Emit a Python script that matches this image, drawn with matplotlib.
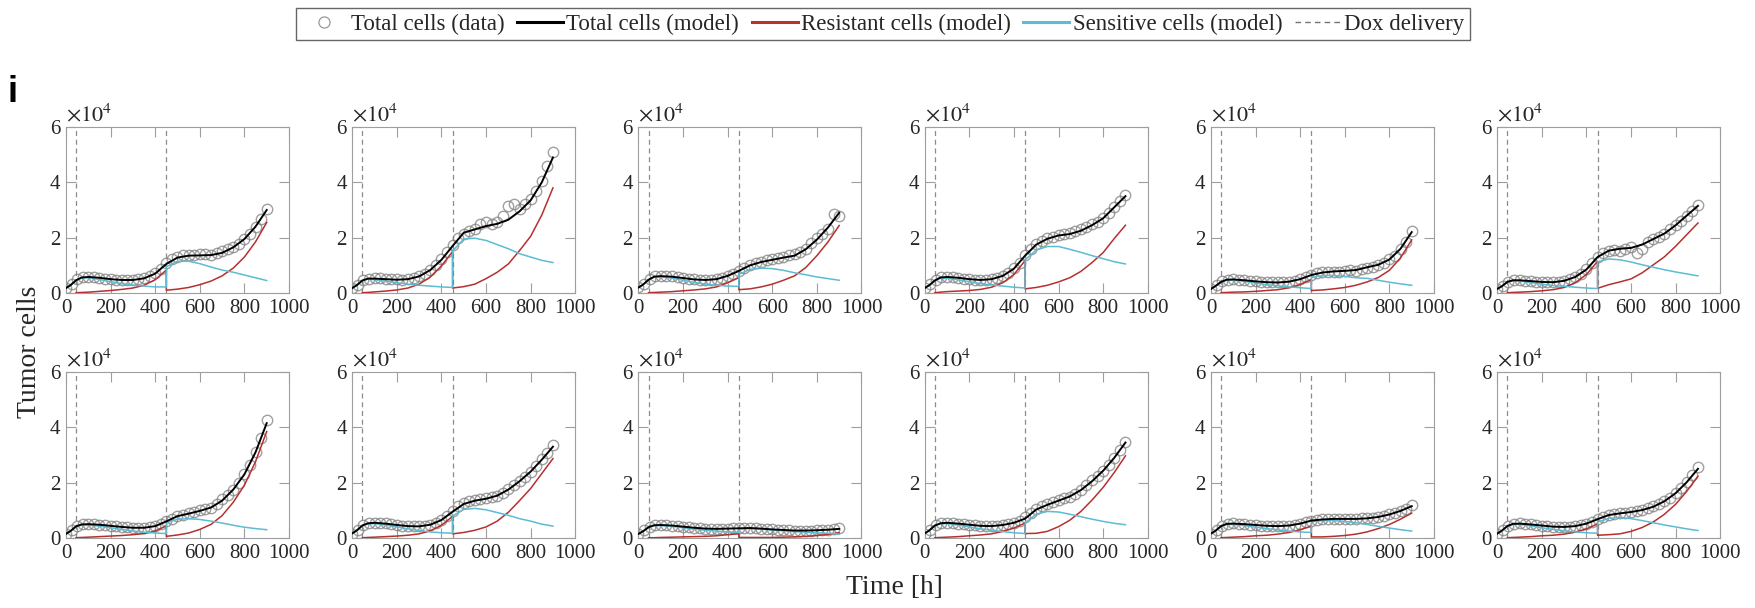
import numpy as np
import matplotlib
matplotlib.use("Agg")
from matplotlib import pyplot as plt
from matplotlib.lines import Line2D

plt.rcParams['font.family'] = 'serif'
plt.rcParams['font.serif'] = ['Liberation Serif', 'DejaVu Serif']
plt.rcParams['mathtext.fontset'] = 'stix'

nan = np.nan

# measurement times (data) and model time points (450 twice = jump at 2nd dose)
t_data = list(range(0, 901, 25))
t_model = [0, 20, 45, 70, 100, 150, 200, 250, 300, 350, 400, 450,
           450, 500, 550, 600, 650, 700, 750, 800, 850, 900]
dox_times = [45, 450]

# total cells (data), one list per well, read at t_data
cells_data = [
    [1700, 3200, 4900, 5700, 5900, 5800, 5600, 5200, 4900, 4700, 4600, 4600, 4800, 5000, 5400, 6000, 7100, 8600, 10800,
     12200, 13000, 13600, 13700, 13900, 14000, 14200, 13800, 14300, 15300, 15800, 16700, 17800, 19500, 21500, 24000, 26800, 30500],
    [1700, 3000, 4700, 5200, 5300, 5300, 5200, 5000, 4900, 4800, 5000, 5400, 6100, 7000, 8300, 10000, 12200, 14800, 17500,
     19800, 21500, 22500, 23200, 25000, 25500, 24800, 25500, 28000, 31500, 32000, 30500, 32000, 34000, 37000, 40500, 46000, 51000],
    [2000, 3400, 5100, 6000, 6200, 6200, 6000, 5700, 5400, 5100, 4900, 4800, 4700, 4800, 5000, 5500, 6200, 7000, 8100,
     9200, 10000, 10700, 11300, 11800, 12200, 12500, 12900, 13600, 14200, 14800, 15900, 18000, 20000, 21500, 23000, 28500, 28000],
    [1700, 3100, 4800, 5700, 5900, 5800, 5500, 5200, 5000, 4800, 4700, 4800, 5000, 5500, 6200, 7300, 8900, 11000, 13800,
     16000, 17600, 18800, 19700, 20300, 20900, 21300, 21600, 22300, 23000, 23800, 24800, 25800, 27200, 29000, 31000, 33200, 35500],
    [1400, 2800, 4200, 4800, 4900, 4800, 4600, 4400, 4200, 4000, 3900, 3800, 3800, 3900, 4100, 4500, 5000, 5800, 6600,
     7200, 7500, 7700, 7700, 7600, 7800, 8200, 8000, 8600, 9200, 9500, 10300, 11000, 12200, 13500, 15800, 18500, 22500],
    [1400, 2700, 4100, 4600, 4700, 4500, 4300, 4100, 4000, 3900, 3900, 4100, 4400, 5000, 5900, 7000, 8600, 10800, 13000,
     14500, 15200, 15500, 15200, 15800, 16500, 14500, 16000, 18500, 19500, 20300, 21500, 23000, 24500, 26000, 28000, 29800, 31800],
    [1400, 2900, 4400, 4900, 5100, 5000, 4800, 4600, 4400, 4200, 4000, 3800, 3700, 3600, 3700, 3900, 4300, 5000, 6100,
     7000, 7800, 8400, 8900, 9400, 10000, 10500, 11000, 12300, 14000, 15500, 17500, 20000, 23000, 26500, 31000, 36000, 42500],
    [1600, 3000, 4700, 5400, 5600, 5500, 5300, 5000, 4700, 4500, 4300, 4200, 4200, 4400, 4800, 5500, 6600, 8000, 9800,
     11500, 12500, 13200, 13600, 14000, 14400, 14700, 15300, 16200, 17600, 19000, 20500, 22200, 24000, 26000, 28500, 30800, 33500],
    [1400, 2800, 4100, 4600, 4800, 4700, 4500, 4300, 4100, 3900, 3700, 3500, 3400, 3300, 3300, 3300, 3400, 3500, 3600,
     3700, 3600, 3500, 3400, 3200, 3100, 3000, 2900, 2800, 2700, 2700, 2700, 2700, 2800, 2900, 3000, 3200, 3600],
    [1600, 3000, 4700, 5400, 5600, 5400, 5200, 5000, 4800, 4600, 4400, 4300, 4300, 4400, 4700, 5100, 5600, 6200, 7500,
     9200, 10500, 11400, 12200, 12900, 13600, 14500, 15000, 16000, 17400, 19000, 20800, 22500, 24300, 26500, 29000, 31800, 34800],
    [1500, 2900, 4500, 5100, 5300, 5200, 5000, 4800, 4700, 4500, 4400, 4300, 4300, 4400, 4500, 4800, 5200, 5700, 6300,
     6600, 6700, 6800, 6900, 6900, 6900, 6900, 7000, 7100, 7200, 7400, 7700, 8000, 8500, 9000, 9800, 10600, 11800],
    [1500, 2900, 4500, 5100, 5300, 5100, 4900, 4700, 4500, 4300, 4100, 4000, 4000, 4100, 4300, 4700, 5200, 5900, 6900,
     7700, 8300, 8700, 9000, 9200, 9500, 9800, 10200, 10700, 11400, 12200, 13300, 14600, 16300, 18200, 20300, 22600, 25500],
]

# model fits, read at t_model
total_model = [
    [1800, 2800, 4600, 5600, 5800, 5500, 5000, 4700, 4700, 5300, 7000, 10500, 10500, 12800, 13500, 13600, 13700, 14500, 16500, 19500, 24000, 30000],
    [1800, 2800, 4500, 5200, 5200, 5000, 4800, 5000, 6000, 8300, 12000, 17000, 17000, 21800, 23000, 24200, 25000, 26500, 29500, 33500, 40000, 49000],
    [2000, 3000, 4800, 5900, 6100, 5900, 5400, 4900, 4700, 5000, 6200, 8000, 8000, 10000, 11200, 12000, 12800, 13500, 15800, 19300, 23700, 29000],
    [1800, 2800, 4500, 5600, 5800, 5500, 5000, 4700, 5000, 6200, 8800, 13500, 13500, 17500, 19600, 20800, 21300, 22500, 24500, 27000, 31000, 35000],
    [1500, 2500, 4000, 4800, 4900, 4600, 4200, 3900, 3800, 4100, 5000, 6500, 6500, 7400, 7800, 8000, 8300, 9300, 10200, 12100, 16000, 22000],
    [1500, 2400, 4000, 4600, 4600, 4300, 4000, 3900, 4400, 5800, 8500, 13000, 13000, 15300, 16000, 16300, 17500, 19500, 21500, 24500, 28000, 31500],
    [1500, 2500, 4200, 4900, 5000, 4800, 4400, 4000, 3700, 3700, 4300, 6000, 6000, 7900, 8800, 9800, 11000, 13500, 17500, 23000, 31000, 41500],
    [1700, 2700, 4500, 5300, 5500, 5200, 4700, 4300, 4200, 4800, 6500, 9500, 9500, 12300, 13500, 14200, 15300, 17500, 20500, 24000, 28300, 33000],
    [1500, 2400, 3900, 4600, 4700, 4500, 4100, 3700, 3400, 3300, 3400, 3500, 3500, 3600, 3400, 3100, 2900, 2700, 2700, 2800, 3000, 3300],
    [1700, 2700, 4500, 5300, 5500, 5200, 4800, 4400, 4300, 4700, 5500, 7000, 7000, 10300, 12000, 13500, 15000, 17300, 20500, 24300, 29000, 34500],
    [1600, 2600, 4300, 5100, 5200, 5000, 4700, 4400, 4300, 4500, 5200, 6300, 6300, 6700, 6900, 6900, 6900, 7100, 7600, 8500, 9800, 11500],
    [1600, 2600, 4300, 5100, 5200, 4900, 4500, 4100, 4000, 4300, 5200, 6800, 6800, 8300, 8900, 9400, 10100, 11300, 13300, 16200, 20200, 25000],
]

resistant_model = [
    [nan, nan, 100, 200, 300, 600, 900, 1300, 1800, 2800, 4800, 8300, 1000, 1400, 2000, 3000, 4300, 6200, 9000, 13000, 18500, 25500],
    [nan, nan, 100, 200, 400, 700, 1100, 1800, 3200, 5800, 9800, 15000, 1800, 2300, 3200, 5200, 7500, 10500, 15300, 20500, 28200, 38000],
    [nan, nan, 100, 200, 300, 500, 800, 1100, 1500, 2200, 3700, 5600, 1200, 1500, 2200, 3200, 4600, 6200, 9200, 13500, 18500, 24400],
    [nan, nan, 100, 300, 500, 700, 900, 1300, 2100, 3700, 6700, 11700, 1500, 2000, 2800, 4000, 5500, 7800, 11000, 14600, 19700, 24500],
    [nan, nan, 100, 200, 300, 400, 600, 900, 1200, 1900, 3100, 4900, 900, 1100, 1500, 2000, 2800, 4000, 5600, 8200, 12700, 19200],
    [nan, nan, 100, 200, 300, 500, 800, 1200, 2000, 3700, 6700, 11400, 1700, 3000, 4000, 5100, 7300, 10200, 13100, 16900, 21100, 25300],
    [nan, nan, 100, 200, 300, 500, 700, 900, 1200, 1600, 2500, 4400, 600, 1100, 1800, 3100, 4900, 8100, 12900, 19100, 27600, 38500],
    [nan, nan, 100, 200, 300, 500, 700, 1000, 1500, 2600, 4600, 7800, 1500, 2000, 2800, 4000, 6100, 9300, 13500, 17900, 23300, 28700],
    [nan, nan, 100, 100, 200, 300, 400, 500, 600, 800, 1200, 1500, 200, 200, 200, 200, 300, 400, 600, 900, 1300, 1900],
    [nan, nan, 100, 200, 300, 500, 800, 1100, 1500, 2400, 3600, 5400, 1600, 1700, 2400, 4100, 6400, 9600, 13700, 18300, 23700, 29700],
    [nan, nan, 100, 200, 300, 500, 800, 1000, 1400, 2000, 3000, 4300, 400, 400, 600, 900, 1400, 2200, 3400, 4900, 6800, 9000],
    [nan, nan, 100, 200, 300, 500, 800, 1000, 1400, 2100, 3300, 5100, 1000, 1200, 1500, 2400, 3800, 5800, 8600, 12200, 16900, 22300],
]

sensitive_model = [
    [1800, 2800, 4500, 5400, 5500, 4900, 4100, 3400, 2900, 2500, 2200, 2200, 9500, 11400, 11500, 10600, 9400, 8300, 7500, 6500, 5500, 4500],
    [1800, 2800, 4400, 5000, 4800, 4300, 3700, 3200, 2800, 2500, 2200, 2000, 15200, 19500, 19800, 19000, 17500, 16000, 14200, 13000, 11800, 11000],
    [2000, 3000, 4700, 5700, 5800, 5400, 4600, 3800, 3200, 2800, 2500, 2400, 6800, 8500, 9000, 8800, 8200, 7300, 6600, 5800, 5200, 4600],
    [1800, 2800, 4400, 5300, 5300, 4800, 4100, 3400, 2900, 2500, 2100, 1800, 12000, 15500, 16800, 16800, 15800, 14700, 13500, 12400, 11300, 10500],
    [1500, 2500, 3900, 4600, 4600, 4200, 3600, 3000, 2600, 2200, 1900, 1600, 5600, 6300, 6300, 6000, 5500, 5300, 4600, 3900, 3300, 2800],
    [1500, 2400, 3900, 4400, 4300, 3800, 3200, 2700, 2400, 2100, 1800, 1600, 11300, 12300, 12000, 11200, 10200, 9300, 8400, 7600, 6900, 6200],
    [1500, 2500, 4100, 4700, 4700, 4300, 3700, 3100, 2500, 2100, 1800, 1600, 5400, 6800, 7000, 6700, 6100, 5400, 4600, 3900, 3400, 3000],
    [1700, 2700, 4400, 5100, 5200, 4700, 4000, 3300, 2700, 2200, 1900, 1700, 8000, 10300, 10700, 10200, 9200, 8200, 7000, 6100, 5000, 4300],
    [1500, 2400, 3800, 4500, 4500, 4200, 3700, 3200, 2800, 2500, 2200, 2000, 3300, 3400, 3200, 2900, 2600, 2300, 2100, 1900, 1700, 1400],
    [1700, 2700, 4400, 5100, 5200, 4700, 4000, 3300, 2800, 2300, 1900, 1600, 5400, 8600, 9600, 9400, 8600, 7700, 6800, 6000, 5300, 4800],
    [1600, 2600, 4200, 4900, 4900, 4500, 3900, 3400, 2900, 2500, 2200, 2000, 5900, 6300, 6300, 6000, 5500, 4900, 4200, 3600, 3000, 2500],
    [1600, 2600, 4200, 4900, 4900, 4400, 3700, 3100, 2600, 2200, 1900, 1700, 5800, 7100, 7400, 7000, 6300, 5500, 4700, 4000, 3300, 2700],
]

red = '#b5302f'
cyan = '#5bbcd3'
frame = '0.62'
txtc = '#262626'

fig = plt.figure(figsize=(17.56, 6.08), dpi=100)

W, H = 1756.0, 608.0
left0, step, aw = 66, 286.25, 223
row_tops = [127, 372]
ah = 166

for k in range(12):
    r, c = divmod(k, 6)
    x0 = left0 + c * step
    ax = fig.add_axes([x0 / W, 1 - (row_tops[r] + ah) / H, aw / W, ah / H])

    for td in dox_times:
        ax.axvline(td, color='0.55', lw=0.9, ls=(0, (4, 3)), zorder=1)
    ax.plot(t_data, cells_data[k], 'o', ms=7.5, mfc='none', mec='0.5', mew=1.0, alpha=0.75, zorder=2)
    ax.plot(t_model, resistant_model[k], color=red, lw=1.1, zorder=3)
    ax.plot(t_model, sensitive_model[k], color=cyan, lw=1.1, zorder=3)
    ax.plot(t_model, total_model[k], color='black', lw=1.4, zorder=4)

    ax.set_xlim(0, 1000)
    ax.set_ylim(0, 6e4)
    ax.set_xticks([0, 200, 400, 600, 800, 1000])
    ax.set_xticklabels(['0', '200', '400', '600', '800', '1000'])
    ax.set_yticks([0, 2e4, 4e4, 6e4])
    ax.set_yticklabels(['0', '2', '4', '6'])
    ax.tick_params(direction='in', length=7, width=0.8, color=frame, labelcolor=txtc,
                   labelsize=15, top=True, right=True, pad=4)
    for lab in ax.get_xticklabels() + ax.get_yticklabels():
        lab.set_family('Liberation Serif')
    for s in ax.spines.values():
        s.set_color(frame)
        s.set_linewidth(0.8)
    ax.text(0.0, 1.005, r'$\times10^{4}$', transform=ax.transAxes, ha='left', va='bottom',
            fontsize=16, color=txtc)

fig.text(13 / W, 1 - 93 / H, 'i', family='Liberation Sans', fontweight='bold',
         fontsize=26, ha='center', va='center')
fig.text(894 / W, 1 - 588 / H, 'Time [h]', fontsize=20, ha='center', va='center', color=txtc)
fig.text(30 / W, 1 - 352 / H, 'Tumor cells', fontsize=20, rotation=90, ha='center', va='center',
         color=txtc)

handles = [
    Line2D([], [], ls='none', marker='o', ms=8, mfc='none', mec='0.6', mew=0.9),
    Line2D([], [], color='black', lw=2.2),
    Line2D([], [], color=red, lw=2.2),
    Line2D([], [], color=cyan, lw=2.2),
    Line2D([], [], color='0.45', lw=1.0, ls=(0, (4, 3))),
]
labels = ['Total cells (data)', 'Total cells (model)', 'Resistant cells (model)',
          'Sensitive cells (model)', 'Dox delivery']
leg = fig.legend(handles, labels, loc='center', bbox_to_anchor=(883 / W, 1 - 24 / H), ncol=5,
                 prop={'family': 'Liberation Serif', 'size': 16.5}, frameon=True, fancybox=False,
                 handlelength=2.0, handletextpad=0.15, columnspacing=0.55, borderpad=0.25,
                 borderaxespad=0)
leg.get_frame().set_edgecolor('0.25')
leg.get_frame().set_linewidth(1.0)
for txt in leg.get_texts():
    txt.set_color(txtc)

fig.savefig('out.png', dpi=100)
